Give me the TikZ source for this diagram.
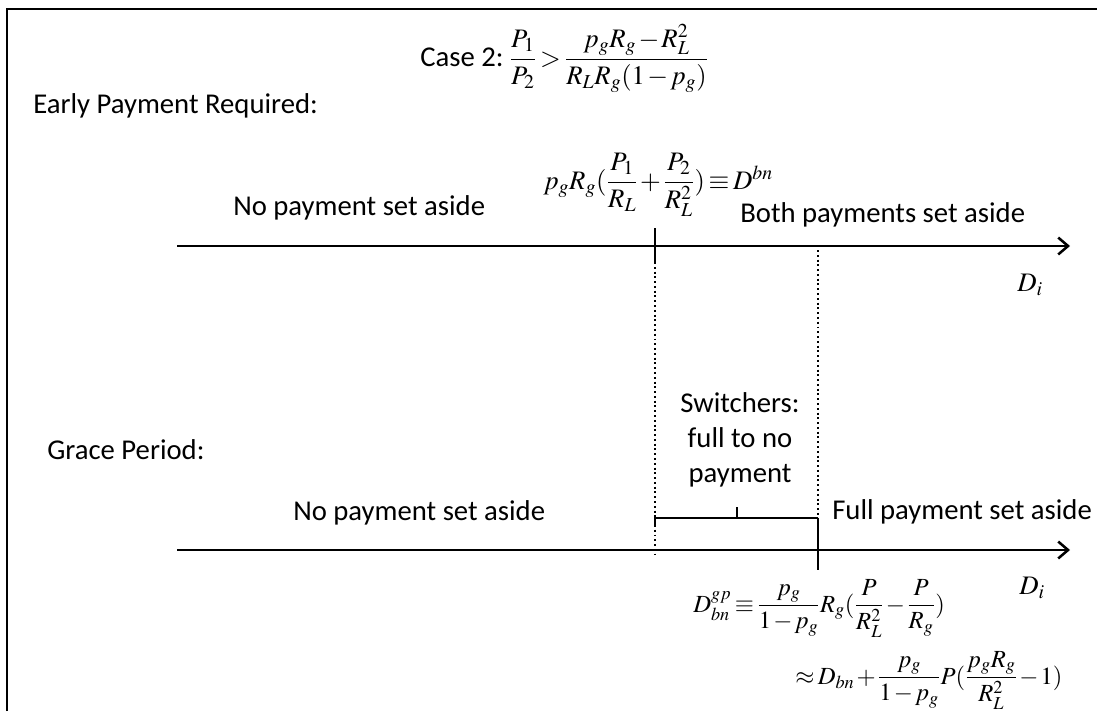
\documentclass[tikz,border=0pt]{standalone}
\usepackage{amsmath,amssymb}
\usepackage{mathptmx}
\usepackage{fontspec}
\setmainfont{Carlito}
\usetikzlibrary{arrows.meta,positioning}
\medmuskip=1.5mu plus 1mu minus 1mu
\thickmuskip=2.5mu plus 1mu minus 1mu

\begin{document}
\begin{tikzpicture}[
    x=0.025cm, y=-0.025cm,
    lbl/.style={font=\fontsize{20.4}{21}\selectfont, inner sep=0pt},
    eqn/.style={font=\fontsize{19}{22}\selectfont, inner sep=0pt},
    eqnsm/.style={font=\fontsize{17.5}{22}\selectfont, inner sep=0pt},
    axis/.style={-{Straight Barb[length=7pt,width=12pt]}, line width=1.8pt},
    guide/.style={dotted, line width=1.4pt},
    tick/.style={line width=1.6pt}
]
\useasboundingbox (0,0) rectangle (1097,711);
\draw[line width=1.5pt] (7,711) -- (7,9) -- (1097,9);

% headings and labels
\node[eqn, anchor=base west] (case) at (420,66) {{\fontsize{20.4}{21}\selectfont Case 2:}\ $\dfrac{P_1}{P_2} > \dfrac{p_g R_g - R_L^2}{R_L R_g (1-p_g)}$};
\node[lbl, anchor=west] (early) at (33,106) {Early Payment Required:};
\node[eqn, anchor=base west] (dbn) at (543,189) {$p_g R_g (\dfrac{P_1}{R_L} + \dfrac{P_2}{R_L^2}) \equiv D^{bn}$};
\node[lbl, anchor=west] (nopaytop) at (233,208) {No payment set aside};
\node[lbl, anchor=west] (both) at (740,215) {Both payments set aside};
\node[eqn] (ditop) at (1030,285) {$D_i$};

\node[lbl, align=center] (switch) at (740,440) {Switchers:\\[4pt]full to no\\[4pt]payment};
\node[lbl, anchor=west] (grace) at (47,450) {Grace Period:};
\node[lbl, anchor=west] (nopaybot) at (293,513) {No payment set aside};
\node[lbl, anchor=west] (full) at (832,512) {Full payment set aside};
\node[eqn] (dibot) at (1032,588) {$D_i$};
\node[eqnsm, anchor=base west] (dgp) at (693,612) {$D^{gp}_{bn} \equiv \dfrac{p_g}{1-p_g} R_g (\dfrac{P}{R_L^2} - \dfrac{P}{R_g})$};
\node[eqnsm, anchor=base west] (approx) at (795,684) {$\approx D_{bn} + \dfrac{p_g}{1-p_g} P(\dfrac{p_g R_g}{R_L^2} - 1)$};

% axes
\coordinate (topstart) at (177,246);
\coordinate (topend) at (1070,246);
\coordinate (botstart) at (177,550);
\coordinate (botend) at (1070,550);
\draw[axis] (topstart) -- (topend);
\draw[axis] (botstart) -- (botend);

% thresholds
\coordinate (bnup) at (655,228);
\coordinate (bnlow) at (655,262);
\coordinate (bnbot) at (655,554);
\coordinate (gptop) at (818,250);
\coordinate (gpbrk) at (818,518);
\coordinate (gplow) at (818,570);
\draw[tick] (bnup) -- (bnlow);
\draw[guide] (bnlow) -- (bnbot);
\draw[guide] (gptop) -- (gpbrk);
\draw[tick] (gpbrk) -- (gplow);

% bracket
\coordinate (brleft) at (655,518);
\coordinate (brmid) at (737,518);
\coordinate (brtip) at (737,507);
\draw[tick] ([yshift=-0.2cm]brleft) -- (brleft) -- (gpbrk);
\draw[tick] (brmid) -- (brtip);
\end{tikzpicture}
\end{document}
